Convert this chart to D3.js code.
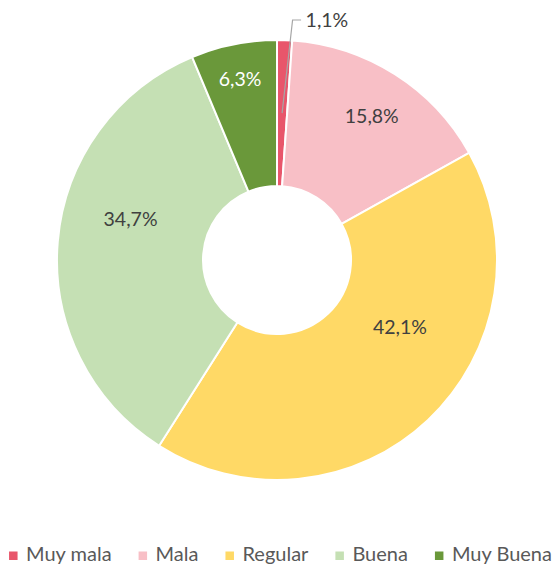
<!DOCTYPE html>
<html>
<head>
<meta charset="utf-8">
<script src="https://cdn.jsdelivr.net/npm/d3@7"></script>
<style>
  html, body { margin: 0; padding: 0; background: #fff; }
  svg { display: block; }
  text { font-family: Lato, "Open Sans", sans-serif; }
</style>
</head>
<body>
<svg id="chart" width="555" height="565"></svg>
<script>
// Survey ratings, share of answers (%)
const categories = ["Muy mala", "Mala", "Regular", "Buena", "Muy Buena"];
const values = [1.1, 15.8, 42.1, 34.7, 6.3];
const colors = ["#E8566B", "#F8BFC6", "#FFD966", "#C5E0B4", "#6A983A"];
const labelColors = ["#404040", "#404040", "#404040", "#404040", "#FFFFFF"];

// Label placement tweaks relative to each slice centroid (px)
const labelNudge = [null, [16, -19], [22, -39], [0, -28], [-8, -36]];

const W = 555, H = 565;
const cx = 277, cy = 260;
const outerR = 220, innerR = 74;
const fontSize = 19.5;
const legendFontSize = 20;

const svg = d3.select("#chart");
const g = svg.append("g").attr("transform", `translate(${cx},${cy})`);

const rows = categories.map((c, i) => ({ cat: c, value: values[i], i }));

const pie = d3.pie().value(d => d.value).sort(null);
const arc = d3.arc().innerRadius(innerR).outerRadius(outerR);
const midArc = d3.arc().innerRadius((innerR + outerR) / 2).outerRadius((innerR + outerR) / 2);

const arcs = pie(rows);

g.selectAll("path.slice")
  .data(arcs)
  .join("path")
  .attr("class", "slice")
  .attr("d", arc)
  .attr("fill", d => colors[d.data.i])
  .attr("stroke", "#fff")
  .attr("stroke-width", 2)
  .attr("stroke-linejoin", "round");

const fmt = v => d3.format(".1f")(v).replace(".", ",") + "%";

// In-slice labels
arcs.forEach(d => {
  const i = d.data.i;
  const [mx, my] = midArc.centroid(d);
  if (labelNudge[i]) {
    g.append("text")
      .attr("x", mx + labelNudge[i][0])
      .attr("y", my + labelNudge[i][1] + 6.5)
      .attr("text-anchor", "middle")
      .attr("font-size", fontSize)
      .attr("fill", labelColors[i])
      .text(fmt(d.data.value));
  } else {
    // Small slice: label sits outside, joined by a leader line
    const ex = mx + 10.5, ey = -240;
    g.append("polyline")
      .attr("points", [[mx, my], [ex, ey], [ex + 8.5, ey]].map(p => p.join(",")).join(" "))
      .attr("fill", "none")
      .attr("stroke", "#A6A6A6")
      .attr("stroke-width", 1.2);
    g.append("text")
      .attr("x", ex + 13)
      .attr("y", ey + 6.5)
      .attr("text-anchor", "start")
      .attr("font-size", fontSize)
      .attr("fill", labelColors[i])
      .text(fmt(d.data.value));
  }
});

// Legend
const legend = svg.append("g");
const items = legend.selectAll("g.item")
  .data(rows)
  .join("g")
  .attr("class", "item");

items.append("rect")
  .attr("width", 8.5)
  .attr("height", 8.5)
  .attr("y", -9.5)
  .attr("fill", d => colors[d.i]);

items.append("text")
  .attr("x", 17)
  .attr("y", 0)
  .attr("font-size", legendFontSize)
  .attr("fill", "#595959")
  .text(d => d.cat);

const gapAfter = 27;
let x = 0;
const offsets = [];
items.each(function () {
  const w = 17 + d3.select(this).select("text").node().getComputedTextLength();
  offsets.push(x);
  x += w + gapAfter;
});
const total = x - gapAfter;
const startX = Math.max(4, (W - total) / 2 + 3);
items.attr("transform", (d, k) => `translate(${startX + offsets[k]},561)`);
</script>
</body>
</html>
